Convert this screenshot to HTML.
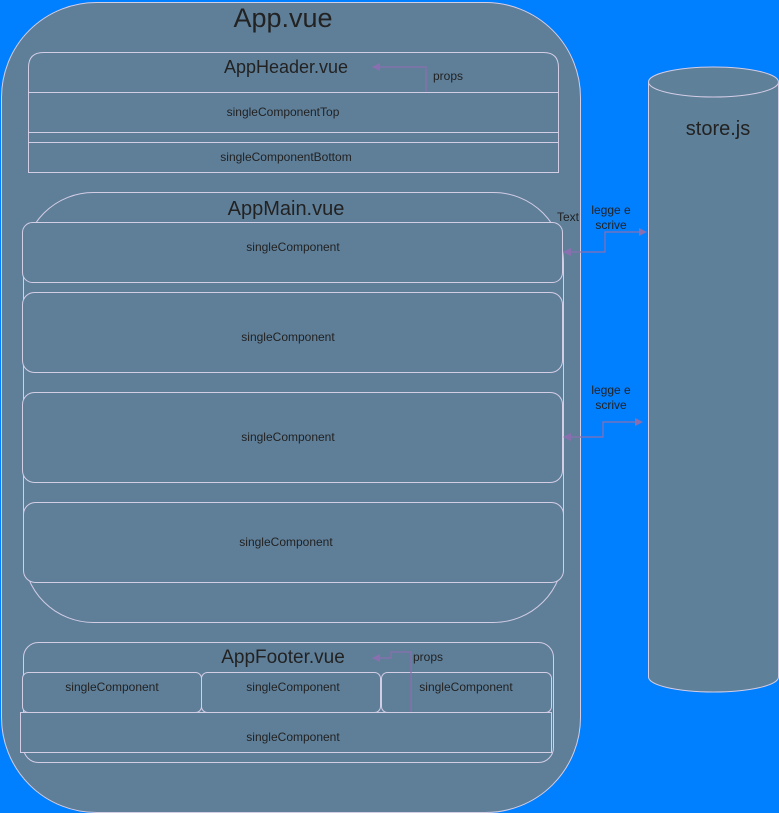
<!DOCTYPE html>
<html><head><meta charset="utf-8"><style>
html,body{margin:0;padding:0;background:#007fff;}
svg{display:block;}
text{font-family:"Liberation Sans",sans-serif;fill:#222;}
</style></head><body>
<svg width="779" height="813" viewBox="0 0 779 813" xmlns="http://www.w3.org/2000/svg">
<rect width="779" height="813" fill="#007fff"/>
<g stroke="#d4cde6" stroke-width="1" fill="#5f7f99">
<rect x="1.5" y="2.5" width="579" height="810" rx="95" ry="95"/>
<path d="M28.5 172.5 V67.5 Q28.5 52.5 43.5 52.5 H543.5 Q558.5 52.5 558.5 67.5 V172.5 Z"/>
<line x1="28.5" y1="92.5" x2="558.5" y2="92.5"/>
<line x1="28.5" y1="132.5" x2="558.5" y2="132.5"/>
<line x1="28.5" y1="142.5" x2="558.5" y2="142.5"/>
<rect x="23.5" y="192.5" width="540" height="430" rx="70" ry="70"/>
<rect x="22.5" y="222.5" width="540" height="60" rx="10"/>
<rect x="22.5" y="292.5" width="540" height="80" rx="12"/>
<rect x="22.5" y="392.5" width="540" height="90" rx="12"/>
<rect x="23.5" y="502.5" width="540" height="80" rx="12"/>
<rect x="23.5" y="642.5" width="530" height="120" rx="15"/>
<rect x="22.5" y="672.5" width="179" height="40" rx="6"/>
<rect x="201.5" y="672.5" width="179" height="40" rx="6"/>
<rect x="381.5" y="672.5" width="170" height="40" rx="6"/>
<rect x="20.5" y="712.5" width="531" height="40"/>
<path d="M648.5 82 V677 A65 15 0 0 0 778.5 677 V82" fill="#5f8099"/>
<ellipse cx="713.5" cy="82" rx="65" ry="15" fill="#5f8099"/>
</g>
<g stroke="#8a6fb0" stroke-width="1.2" fill="none">
<path d="M426 92 V67 H378"/>
<path d="M411 712 V652 H391 V658 H378"/>
<path d="M570 252 H605 V232 H640"/>
<path d="M570 437 H603 V422 H636"/>
</g>
<g fill="#8a6fb0">
<path d="M372 67 L380 63 L380 71 Z"/>
<path d="M372 658 L380 654 L380 662 Z"/>
<path d="M647 232 L639 228 L639 236 Z"/>
<path d="M643 422 L635 418 L635 426 Z"/>
<path d="M563 252 L571 248 L571 256 Z"/>
<path d="M563 437 L571 433 L571 441 Z"/>
</g>
<text x="283" y="27" font-size="27" text-anchor="middle">App.vue</text>
<text x="286" y="73" font-size="18" text-anchor="middle">AppHeader.vue</text>
<text x="448" y="80" font-size="12" text-anchor="middle">props</text>
<text x="283" y="116" font-size="12" text-anchor="middle">singleComponentTop</text>
<text x="286" y="161" font-size="12" text-anchor="middle">singleComponentBottom</text>
<text x="286" y="215" font-size="20" text-anchor="middle">AppMain.vue</text>
<text x="568" y="221" font-size="12" text-anchor="middle">Text</text>
<text x="611" y="214" font-size="12" text-anchor="middle">legge e</text>
<text x="611" y="229" font-size="12" text-anchor="middle">scrive</text>
<text x="611" y="394" font-size="12" text-anchor="middle">legge e</text>
<text x="611" y="409" font-size="12" text-anchor="middle">scrive</text>
<text x="293" y="251" font-size="12" text-anchor="middle">singleComponent</text>
<text x="288" y="341" font-size="12" text-anchor="middle">singleComponent</text>
<text x="288" y="441" font-size="12" text-anchor="middle">singleComponent</text>
<text x="286" y="546" font-size="12" text-anchor="middle">singleComponent</text>
<text x="283" y="663" font-size="19" text-anchor="middle">AppFooter.vue</text>
<text x="428" y="661" font-size="12" text-anchor="middle">props</text>
<text x="112" y="691" font-size="12" text-anchor="middle">singleComponent</text>
<text x="293" y="691" font-size="12" text-anchor="middle">singleComponent</text>
<text x="466" y="691" font-size="12" text-anchor="middle">singleComponent</text>
<text x="293" y="741" font-size="12" text-anchor="middle">singleComponent</text>
<text x="718" y="135" font-size="20" text-anchor="middle">store.js</text>
</svg>
</body></html>
